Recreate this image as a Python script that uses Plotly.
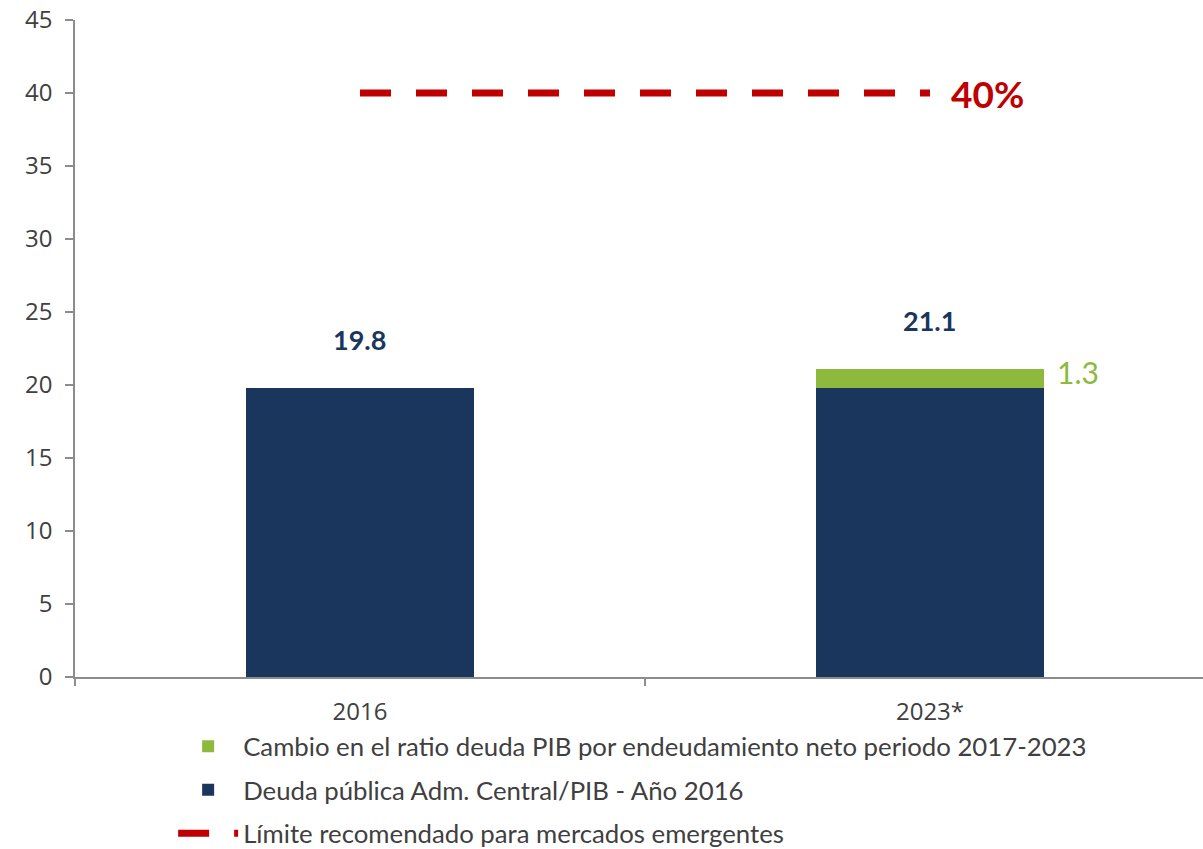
import plotly.graph_objects as go

# Data
categories = ["2016", "2023*"]
deuda_2016 = [19.8, 19.8]          # Deuda pública Adm. Central/PIB - Año 2016
cambio = [None, 1.3]               # Cambio por endeudamiento neto 2017-2023
totales = [19.8, 21.1]
limite = [40, 40]                  # Límite recomendado para mercados emergentes

NAVY = "#1B365D"
GREEN = "#8DB93C"
RED = "#C00000"
GRAY_TEXT = "#404040"
AXIS = "#8C8C8C"

fig = go.Figure()

fig.add_trace(go.Bar(
    x=categories, y=deuda_2016, name="Deuda pública Adm. Central/PIB - Año 2016",
    marker=dict(color=NAVY, line=dict(width=0)), width=0.4,
    legendgroup="b", legendrank=2, hoverinfo="skip",
))
fig.add_trace(go.Bar(
    x=categories, y=cambio, name="Cambio en el ratio deuda PIB por endeudamiento neto periodo 2017-2023",
    marker=dict(color=GREEN, line=dict(width=0)), width=0.4,
    legendgroup="a", legendrank=1, hoverinfo="skip",
))
fig.add_trace(go.Scatter(
    x=categories, y=limite, mode="lines", name="Límite recomendado para mercados emergentes",
    line=dict(color=RED, width=7, dash="31px,25px"),
    legendgroup="c", legendrank=3, hoverinfo="skip",
))

# Total labels above each bar (x given as category index)
for i, tot in enumerate(totales):
    fig.add_annotation(
        x=i, y=tot, text=f"<b>{tot:.1f}</b>", showarrow=False,
        yanchor="middle", yshift=48,
        font=dict(family="Lato", size=27, color=NAVY),
    )

# Change label next to the green segment
fig.add_annotation(
    x=1, y=deuda_2016[1] + cambio[1] / 2, text=f"{cambio[1]:.1f}", showarrow=False,
    xanchor="left", yanchor="middle", xshift=125, yshift=6,
    font=dict(family="Lato", size=30, color=GREEN),
)

# Limit label at the end of the dashed line
fig.add_annotation(
    x=1, y=limite[1], text=f"<b>{limite[1]}%</b>", showarrow=False,
    xanchor="left", yanchor="middle", xshift=19,
    font=dict(family="Lato", size=37, color=RED),
)

fig.update_layout(
    width=1203, height=849,
    margin=dict(l=75, r=0, t=20, b=172, autoexpand=False),
    paper_bgcolor="white", plot_bgcolor="white",
    barmode="stack", bargap=0.6,
    font=dict(family="Open Sans", color=GRAY_TEXT),
    showlegend=True,
    legend=dict(
        x=0.087, y=-0.274, xanchor="left", yanchor="bottom",
        orientation="v", traceorder="grouped", tracegroupgap=7,
        font=dict(family="Lato", size=25.75, color=GRAY_TEXT),
        itemwidth=60, bgcolor="rgba(0,0,0,0)",
    ),
    xaxis=dict(
        type="category", range=[-0.5, 1.479], automargin=False,
        showline=True, linecolor=AXIS, linewidth=1.5,
        ticks="outside", tickson="boundaries", ticklen=7, tickcolor=AXIS, tickwidth=1.5,
        showgrid=False, zeroline=False, tickangle=0,
        tickfont=dict(family="Open Sans", size=24, color=GRAY_TEXT),
        ticklabelstandoff=12,
    ),
    yaxis=dict(
        range=[0, 45], dtick=5, tick0=0, automargin=False,
        showline=True, linecolor=AXIS, linewidth=1.5,
        ticks="outside", ticklen=8, tickcolor=AXIS, tickwidth=1.5,
        showgrid=False, zeroline=False,
        tickfont=dict(family="Open Sans", size=24, color=GRAY_TEXT),
        ticklabelstandoff=8,
    ),
)

fig.write_html("out.html")
